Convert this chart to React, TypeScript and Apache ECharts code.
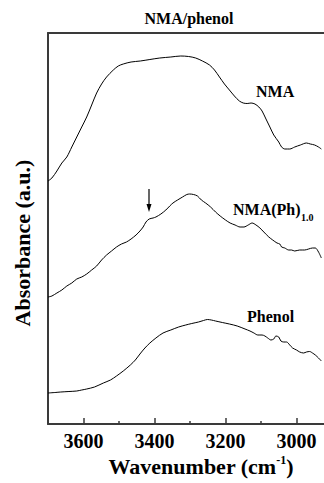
import React, { useEffect, useRef } from "react";
import * as echarts from "echarts";

const nmaWn = [3700, 3689, 3675, 3661, 3647, 3633, 3619, 3605, 3591, 3577, 3563, 3549, 3535, 3516, 3502, 3488, 3466, 3440, 3413, 3385, 3354, 3326, 3304, 3284, 3265, 3245, 3231, 3217, 3203, 3189, 3175, 3161, 3150, 3139, 3128, 3117, 3106, 3097, 3086, 3075, 3064, 3050, 3042, 3033, 3019, 3005, 2989, 2972, 2961, 2949, 2938, 2930];
const nmaAbs = [2.43, 2.46, 2.53, 2.61, 2.67, 2.77, 2.87, 2.97, 3.07, 3.19, 3.31, 3.4, 3.47, 3.54, 3.58, 3.6, 3.62, 3.63, 3.645, 3.66, 3.67, 3.68, 3.675, 3.66, 3.63, 3.59, 3.54, 3.47, 3.4, 3.34, 3.28, 3.23, 3.21, 3.205, 3.21, 3.2, 3.17, 3.13, 3.05, 2.97, 2.89, 2.82, 2.77, 2.75, 2.75, 2.77, 2.79, 2.81, 2.8, 2.79, 2.77, 2.75];

const phWn = [3700, 3689, 3675, 3661, 3647, 3633, 3619, 3605, 3591, 3577, 3563, 3549, 3535, 3521, 3507, 3493, 3479, 3466, 3452, 3441, 3432, 3424, 3415, 3404, 3396, 3382, 3368, 3357, 3348, 3335, 3321, 3309, 3301, 3290, 3279, 3268, 3256, 3242, 3228, 3215, 3200, 3187, 3173, 3159, 3148, 3136, 3125, 3114, 3103, 3092, 3078, 3067, 3055, 3047, 3042, 3033, 3022, 3014, 3005, 2991, 2977, 2966, 2955, 2947, 2938, 2930];
const phAbs = [1.27, 1.28, 1.31, 1.34, 1.38, 1.41, 1.45, 1.47, 1.5, 1.54, 1.58, 1.64, 1.69, 1.73, 1.77, 1.8, 1.82, 1.85, 1.89, 1.93, 1.97, 2.02, 2.05, 2.06, 2.07, 2.1, 2.14, 2.18, 2.21, 2.24, 2.27, 2.295, 2.3, 2.295, 2.28, 2.24, 2.21, 2.17, 2.12, 2.08, 2.04, 2.01, 1.99, 1.97, 1.97, 1.99, 2.01, 1.99, 1.96, 1.92, 1.87, 1.84, 1.81, 1.8, 1.77, 1.76, 1.74, 1.74, 1.73, 1.74, 1.74, 1.75, 1.76, 1.76, 1.72, 1.66];

const phenolWn = [3700, 3680, 3664, 3641, 3619, 3605, 3591, 3569, 3544, 3524, 3507, 3488, 3468, 3454, 3441, 3427, 3413, 3396, 3376, 3354, 3332, 3312, 3295, 3276, 3262, 3251, 3240, 3228, 3209, 3189, 3167, 3145, 3131, 3120, 3109, 3097, 3089, 3081, 3072, 3064, 3058, 3050, 3044, 3036, 3028, 3019, 3011, 3000, 2991, 2980, 2972, 2963, 2955, 2947, 2938, 2930];
const phenolAbs = [0.31, 0.315, 0.32, 0.325, 0.33, 0.34, 0.35, 0.37, 0.41, 0.44, 0.48, 0.53, 0.59, 0.64, 0.7, 0.76, 0.81, 0.86, 0.91, 0.94, 0.97, 0.99, 1.005, 1.02, 1.035, 1.045, 1.04, 1.03, 1.015, 1.0, 0.98, 0.95, 0.93, 0.91, 0.89, 0.89, 0.88, 0.86, 0.84, 0.85, 0.88, 0.87, 0.83, 0.82, 0.82, 0.79, 0.76, 0.74, 0.72, 0.71, 0.72, 0.725, 0.71, 0.69, 0.66, 0.63];

const majorTicks = [3000, 3200, 3400, 3600];
const minorTicks = [3100, 3300, 3500];
const seriesNames = ["NMA", "NMA(Ph)1.0", "Phenol"];

const FONT = "Liberation Serif";

export default function App() {
  const ref = useRef<HTMLDivElement>(null);
  useEffect(() => {
    if (!ref.current) return;
    const chart = echarts.init(ref.current, null, { renderer: "svg" });
    const zip = (a: number[], b: number[]) => a.map((x, i) => [x, b[i]]);
    const axisColor = "#3a3a3a";
    const baseX = {
      type: "value",
      min: 2900,
      max: 3700,
      interval: 100,
      inverse: true,
      splitLine: { show: false },
    };
    chart.setOption({
      animation: false,
      textStyle: { fontFamily: FONT, fontWeight: "bold" },
      grid: { left: 48, top: 33, right: 0, bottom: 59 },
      xAxis: [
        {
          ...baseX,
          position: "bottom",
          axisLine: { show: true, lineStyle: { color: axisColor, width: 2 } },
          axisTick: { show: true, inside: true, length: 6, customValues: majorTicks, lineStyle: { color: axisColor, width: 1.5 } },
          axisLabel: {
            show: true,
            formatter: (v: number) => (majorTicks.indexOf(v) >= 0 ? String(v) : ""),
            margin: 7,
            color: "#000",
            fontSize: 20,
            fontWeight: "bold",
            fontFamily: FONT,
          },
        },
        {
          ...baseX,
          position: "bottom",
          axisLine: { show: false },
          axisTick: { show: true, inside: true, length: 3, customValues: minorTicks, lineStyle: { color: axisColor, width: 1.5 } },
          axisLabel: { show: false },
        },
        {
          ...baseX,
          position: "top",
          axisLine: { show: true, lineStyle: { color: axisColor, width: 2 } },
          axisTick: { show: false },
          axisLabel: { show: false },
        },
      ],
      yAxis: {
        type: "value",
        min: 0,
        max: 3.91,
        axisLine: { show: true, lineStyle: { color: axisColor, width: 2 } },
        axisTick: { show: false },
        axisLabel: { show: false },
        splitLine: { show: false },
      },
      series: [
        { name: seriesNames[0], data: zip(nmaWn, nmaAbs) },
        { name: seriesNames[1], data: zip(phWn, phAbs) },
        { name: seriesNames[2], data: zip(phenolWn, phenolAbs) },
      ].map((s) => ({
        ...s,
        type: "line",
        smooth: 0.3,
        showSymbol: false,
        lineStyle: { color: "#000", width: 1 },
        clip: true,
      })),
      graphic: [
        {
          type: "text",
          x: 189,
          y: 18,
          style: { text: "NMA/phenol", font: `bold 16px ${FONT}`, fill: "#000", align: "center", verticalAlign: "middle" },
        },
        {
          type: "text",
          x: 256,
          y: 91,
          style: { text: "NMA", font: `bold 16px ${FONT}`, fill: "#000", align: "left", verticalAlign: "middle" },
        },
        {
          type: "text",
          x: 233,
          y: 209,
          style: { text: "NMA(Ph)", font: `bold 16px ${FONT}`, fill: "#000", align: "left", verticalAlign: "middle" },
        },
        {
          type: "text",
          x: 301,
          y: 217,
          style: { text: "1.0", font: `bold 10px ${FONT}`, fill: "#000", align: "left", verticalAlign: "middle" },
        },
        {
          type: "text",
          x: 247,
          y: 316,
          style: { text: "Phenol", font: `bold 16px ${FONT}`, fill: "#000", align: "left", verticalAlign: "middle" },
        },
        {
          type: "text",
          x: 201,
          y: 466,
          style: {
            text: "{a|Wavenumber (cm}{b|-1}{a|)}",
            align: "center",
            verticalAlign: "middle",
            rich: {
              a: { fontSize: 22, fontWeight: "bold", fontFamily: FONT, fill: "#000", lineHeight: 24 },
              b: { fontSize: 12, fontWeight: "bold", fontFamily: FONT, fill: "#000", verticalAlign: "top", lineHeight: 24 },
            },
          },
        },
        {
          type: "text",
          x: 22,
          y: 243,
          rotation: Math.PI / 2,
          style: { text: "Absorbance (a.u.)", font: `bold 22px ${FONT}`, fill: "#000", align: "center", verticalAlign: "middle" },
        },
        {
          type: "line",
          shape: { x1: 149, y1: 189, x2: 149, y2: 206 },
          style: { stroke: "#000", lineWidth: 1.2 },
        },
        {
          type: "polygon",
          shape: { points: [[146.5, 204], [151.5, 204], [149, 212]] },
          style: { fill: "#000" },
        },
      ],
    });
    return () => chart.dispose();
  }, []);
  return (
    <div style={{ position: "absolute", left: 0, top: 0, width: 324, height: 483, overflow: "hidden" }}>
      <div ref={ref} style={{ width: 335, height: 483 }} />
    </div>
  );
}
